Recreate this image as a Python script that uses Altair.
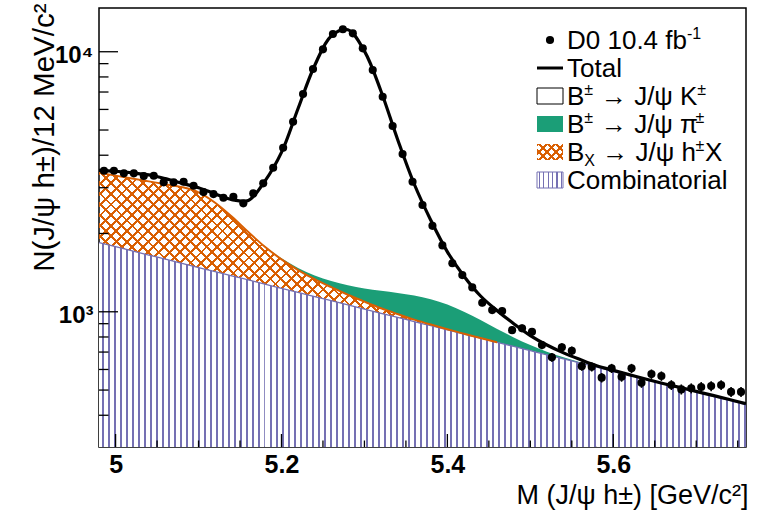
import math
import altair as alt
import pandas as pd

# ---------------- data ----------------
MASS_MIN, MASS_MAX = 4.98, 5.76
BIN_WIDTH = 0.012  # 12 MeV bins

data_counts = [3486, 3486, 3407, 3407, 3326, 3335, 3146, 3146, 3162, 3052,
               2886, 2835, 2745, 2769, 2612, 2853, 3118, 3579, 4273, 5381,
               6876, 8579, 10214, 11698, 12198, 11769, 10307, 8502, 6713, 5180,
               4041, 3162, 2573, 2140, 1800, 1536, 1384, 1241, 1083, 1015,
               1006, 850, 864, 838, 745, 668, 730, 708, 618, 614,
               558, 606, 562, 606, 533, 576, 566, 523, 503, 508,
               514, 518, 523, 492, 492]

grid_mass = [4.98, 5.00, 5.02, 5.04, 5.06, 5.08, 5.10, 5.12, 5.14, 5.16,
             5.18, 5.20, 5.22, 5.24, 5.26, 5.28, 5.30, 5.32, 5.34, 5.36,
             5.38, 5.40, 5.42, 5.44, 5.46, 5.48, 5.50, 5.52, 5.54, 5.56,
             5.58, 5.60, 5.62, 5.64, 5.66, 5.68, 5.70, 5.72, 5.74, 5.76]

combinatorial = [1846, 1779, 1715, 1653, 1593, 1536, 1480, 1427, 1375, 1326,
                 1278, 1231, 1187, 1144, 1103, 1063, 1024, 987, 952, 917,
                 884, 852, 821, 792, 763, 736, 709, 683, 659, 635,
                 612, 590, 569, 548, 528, 509, 491, 473, 456, 439]

bx_partial = [1580, 1560, 1540, 1520, 1500, 1480, 1400, 1200, 950, 700,
              500, 360, 260, 190, 140, 100, 70, 45, 28, 16,
              9, 5, 2, 1, 0, 0, 0, 0, 0, 0,
              0, 0, 0, 0, 0, 0, 0, 0, 0, 0]

b_to_jpsi_pi = [0, 0, 0, 0, 0, 0, 0, 0, 2, 4,
                8, 15, 27, 45, 70, 101, 136, 172, 202, 221,
                224, 209, 177, 136, 96, 61, 36, 19, 9, 4,
                2, 1, 0, 0, 0, 0, 0, 0, 0, 0]

total_fit = [3500, 3470, 3420, 3360, 3250, 3120, 3000, 2840, 2700, 2680,
             3180, 4100, 6050, 8850, 11500, 12150, 10050, 7050, 4600, 3100,
             2250, 1700, 1370, 1150, 1010, 900, 810, 745, 695, 655,
             620, 595, 572, 550, 530, 512, 494, 477, 460, 443]

x_tick_labels = [5.0, 5.2, 5.4, 5.6]
x_minor_ticks = [5.05, 5.1, 5.15, 5.25, 5.3, 5.35, 5.45, 5.5, 5.55, 5.65, 5.7, 5.75]
y_tick_labels = [1000, 10000]
y_minor_ticks = [400, 500, 600, 700, 800, 900, 2000, 3000, 4000, 5000, 6000, 7000, 8000, 9000]

# legend texts, split into (text, position) pieces: n = normal, sup = superscript, sub = subscript
legend_texts = [
    [("D0 10.4 fb", "n"), ("-1", "sup")],
    [("Total", "n")],
    [("B", "n"), ("\u00b1", "sup"), (" \u2192 J/\u03c8 K", "n"), ("\u00b1", "sup")],
    [("B", "n"), ("\u00b1", "sup"), (" \u2192 J/\u03c8 \u03c0", "n"), ("\u00b1", "sup")],
    [("B", "n"), ("X", "sub"), (" \u2192 J/\u03c8 h", "n"), ("\u00b1", "sup"), ("X", "n")],
    [("Combinatorial", "n")],
]

# ---------------- layout / style ----------------
W, H = 647, 439
YMIN, YMAX = 302, 14730
FONT = "Liberation Sans"
PURPLE = "#7570b3"
ORANGE = "#d95f02"
GREEN = "#1b9e77"
CLEAR = "rgba(255,255,255,0)"
HATCH_P = 6.0

xs = alt.Scale(domain=[MASS_MIN, MASS_MAX], nice=False, zero=False)
ys = alt.Scale(type="log", domain=[YMIN, YMAX], nice=False)


def px(m):
    return (m - MASS_MIN) / (MASS_MAX - MASS_MIN) * W


def py(v):
    return H * (math.log10(YMAX) - math.log10(v)) / (math.log10(YMAX) - math.log10(YMIN))


def stripe_stops(length, period, width, color, bg=CLEAR, phase=0.0):
    stops = [{"offset": 0.0, "color": bg}]
    s = phase
    while s < length:
        e = min(s + width, length)
        a, b = s / length, e / length
        stops += [{"offset": a, "color": bg}, {"offset": a, "color": color},
                  {"offset": b, "color": color}, {"offset": b, "color": bg}]
        s += period
    stops.append({"offset": 1.0, "color": bg})
    return stops


def vertical_hatch(w, period, lw, color, phase):
    return {"gradient": "linear", "x1": 0, "y1": 0, "x2": 1, "y2": 0,
            "stops": stripe_stops(w, period, lw, color, bg="white", phase=phase)}


def diag_hatch(w, h, period, lw, color, direction):
    r = h / w
    k = (1 + r) / (1 + r * r)
    L = (w + h) / math.sqrt(2)
    stops = stripe_stops(L, period, lw, color)
    if direction == 1:
        return {"gradient": "linear", "x1": 0, "y1": 0, "x2": k, "y2": k * r, "stops": stops}
    return {"gradient": "linear", "x1": 0, "y1": 1, "x2": k, "y2": 1 - k * r, "stops": stops}


# approximate advance widths (em) of Liberation Sans, for placing sub/superscripts
EM = {" ": 0.278, "B": 0.667, "D": 0.722, "J": 0.5, "K": 0.667, "X": 0.667, "/": 0.278,
      ".": 0.278, "-": 0.333, "f": 0.278, "b": 0.556, "h": 0.556, "\u00b1": 0.584,
      "\u2192": 1.0, "\u03c8": 0.70, "\u03c0": 0.60}


def text_width(s, size):
    return sum(EM.get(c, 0.556) for c in s) * size


# ---------------- tables ----------------
comp = pd.DataFrame({"m": grid_mass, "comb": combinatorial, "bx": bx_partial,
                     "pi": b_to_jpsi_pi, "total": total_fit})
comp["c1"] = comp["comb"]
comp["c2"] = comp["comb"] + comp["bx"]
comp["c3"] = comp["c2"] + comp["pi"]

last_bx = comp.index[comp["bx"] == 0][0]
bx_df = comp.loc[:last_bx].copy()
nz = comp.index[comp["pi"] > 0]
pi_df = comp.loc[nz[0] - 1: nz[-1] + 1].copy()

pts = pd.DataFrame({"m": [round(MASS_MIN + (i + 0.5) * BIN_WIDTH, 4) for i in range(len(data_counts))],
                    "n": data_counts})

bx_w = px(bx_df["m"].iloc[-1]) - px(bx_df["m"].iloc[0])
bx_h = py(bx_df["c1"].min()) - py(bx_df["c2"].max())

X_AXIS = alt.Axis(values=x_tick_labels, format="~g", ticks=False, tickSize=0, domain=False, grid=False,
                  labelFont=FONT, labelFontSize=25, labelFontWeight="bold", labelColor="black",
                  labelPadding=25, labelBaseline="alphabetic", labelFlush=False,
                  title="M (J/\u03c8 h\u00b1) [GeV/c\u00b2]", titleFont=FONT, titleFontSize=27,
                  titleFontWeight="normal", titleColor="black", titleAlign="right",
                  titleBaseline="alphabetic", titleX=649, titleY=56)
Y_AXIS = alt.Axis(values=y_tick_labels, labelExpr="datum.value == 1000 ? '10\u00b3' : '10\u2074'",
                  ticks=False, tickSize=0, domain=False, grid=False,
                  labelFont=FONT, labelFontSize=24, labelFontWeight="bold", labelColor="black",
                  labelPadding=6, labelBaseline="alphabetic", labelOffset=11,
                  title="N(J/\u03c8 h\u00b1)/12 MeV/c\u00b2", titleFont=FONT, titleFontSize=29.5,
                  titleFontWeight="normal", titleColor="black", titleAngle=270, titleAlign="right",
                  titleBaseline="alphabetic", titleX=-46, titleY=-5)

layers = []

# combinatorial (vertical hatch), drawn in a few pieces so each gradient stays small
chunks = [(0, 10), (10, 20), (20, 30), (30, len(comp) - 1)]
for i, (a, b) in enumerate(chunks):
    part = comp.loc[a:b]
    x0 = px(part["m"].iloc[0])
    w = px(part["m"].iloc[-1]) - x0
    phase = (HATCH_P / 2 - x0) % HATCH_P
    if i == 0:
        enc_x = alt.X("m:Q", scale=xs, axis=X_AXIS)
        enc_y = alt.Y("c1:Q", scale=ys, axis=Y_AXIS)
    else:
        enc_x = alt.X("m:Q", scale=xs)
        enc_y = alt.Y("c1:Q", scale=ys)
    layers.append(alt.Chart(part).mark_area(
        fill=vertical_hatch(w, HATCH_P, 1.6, PURPLE, phase), interpolate="monotone", clip=True
    ).encode(x=enc_x, y=enc_y, y2=alt.datum(YMIN)))

# B_X -> J/psi h X (cross hatch)
for d in (1, 2):
    layers.append(alt.Chart(bx_df).mark_area(
        fill=diag_hatch(bx_w, bx_h, 7.5, 2.0, ORANGE, d), interpolate="monotone", clip=True
    ).encode(x=alt.X("m:Q", scale=xs), y=alt.Y("c2:Q", scale=ys), y2="c1:Q"))

# B -> J/psi pi (solid)
layers.append(alt.Chart(pi_df).mark_area(color=GREEN, interpolate="monotone", clip=True).encode(
    x=alt.X("m:Q", scale=xs), y=alt.Y("c3:Q", scale=ys), y2="c2:Q"))

# edges
layers.append(alt.Chart(comp).mark_line(color=PURPLE, strokeWidth=1.3, interpolate="monotone", clip=True).encode(
    x=alt.X("m:Q", scale=xs), y=alt.Y("c1:Q", scale=ys)))
layers.append(alt.Chart(bx_df).mark_line(color=ORANGE, strokeWidth=2, interpolate="monotone", clip=True).encode(
    x=alt.X("m:Q", scale=xs), y=alt.Y("c2:Q", scale=ys)))

# total fit
layers.append(alt.Chart(comp).mark_line(color="black", strokeWidth=3.2, interpolate="catmull-rom", clip=True).encode(
    x=alt.X("m:Q", scale=xs), y=alt.Y("total:Q", scale=ys)))

# data points with sqrt(N) errors
pts_base = alt.Chart(pts).transform_calculate(lo="datum.n - sqrt(datum.n)", hi="datum.n + sqrt(datum.n)")
layers.append(pts_base.mark_rule(color="black", strokeWidth=1.6).encode(
    x=alt.X("m:Q", scale=xs), y=alt.Y("lo:Q", scale=ys), y2="hi:Q"))
layers.append(pts_base.mark_point(filled=True, color="black", size=66, opacity=1).encode(
    x=alt.X("m:Q", scale=xs), y=alt.Y("n:Q", scale=ys)))


# axis ticks drawn inside the frame (ROOT style)
def xticks(values, length):
    return alt.Chart(pd.DataFrame({"t": values})).mark_rule(color="black", strokeWidth=1.3).encode(
        x=alt.X("t:Q", scale=xs), y=alt.value(H), y2=alt.value(H - length))


def yticks(values, length):
    return alt.Chart(pd.DataFrame({"t": values})).mark_rule(color="black", strokeWidth=1.3).encode(
        y=alt.Y("t:Q", scale=ys), x=alt.value(0), x2=alt.value(length))


layers += [xticks(x_tick_labels, 13), xticks(x_minor_ticks, 6.5),
           yticks(y_tick_labels, 19), yticks(y_minor_ticks, 9.5)]

# ---------------- legend ----------------
one = pd.DataFrame({"k": [0]})
LX0, LX1, LTX = 438, 464, 468
row_y = [32, 60, 88, 116, 144, 172]
BOX_H = 16
FS, FS_SMALL = 26, 16

layers.append(alt.Chart(one).mark_point(filled=True, color="black", size=66, opacity=1).encode(
    x=alt.value((LX0 + LX1) / 2), y=alt.value(row_y[0])))
layers.append(alt.Chart(one).mark_rule(color="black", strokeWidth=3).encode(
    x=alt.value(LX0), x2=alt.value(LX1), y=alt.value(row_y[1])))


def legend_box(yc, **kw):
    return alt.Chart(one).mark_rect(**kw).encode(
        x=alt.value(LX0), x2=alt.value(LX1), y=alt.value(yc - BOX_H / 2), y2=alt.value(yc + BOX_H / 2))


layers.append(legend_box(row_y[2], fill="white", stroke="black", strokeWidth=1))
layers.append(legend_box(row_y[3], fill=GREEN))
for d in (1, 2):
    layers.append(legend_box(row_y[4], fill=diag_hatch(LX1 - LX0, BOX_H, 6, 1.8, ORANGE, d)))
layers.append(legend_box(row_y[5], fill=vertical_hatch(LX1 - LX0, 4.5, 1.3, PURPLE, 1.5),
                         stroke=PURPLE, strokeWidth=1))

for pieces, yc in zip(legend_texts, row_y):
    xpos = LTX
    base = yc + 9
    for txt, kind in pieces:
        size = FS if kind == "n" else FS_SMALL
        yb = base if kind == "n" else (base - 10 if kind == "sup" else base + 5)
        stripped = txt.lstrip(" ")
        xpos += text_width(txt[: len(txt) - len(stripped)], size)  # leading blanks are not rendered
        layers.append(alt.Chart(one).mark_text(align="left", baseline="alphabetic", font=FONT,
                                               fontSize=size, color="black").encode(
            x=alt.value(xpos), y=alt.value(yb), text=alt.value(stripped)))
        xpos += text_width(stripped, size)

chart = alt.layer(*layers).properties(
    width=W, height=H,
    padding={"left": 99, "top": 8, "right": 14, "bottom": 64},
    autosize=alt.AutoSizeParams(type="none"),
    background="white",
).configure_view(stroke="black", strokeWidth=1.5)

chart.save("out.html", embed_options={"renderer": "svg", "actions": False})
